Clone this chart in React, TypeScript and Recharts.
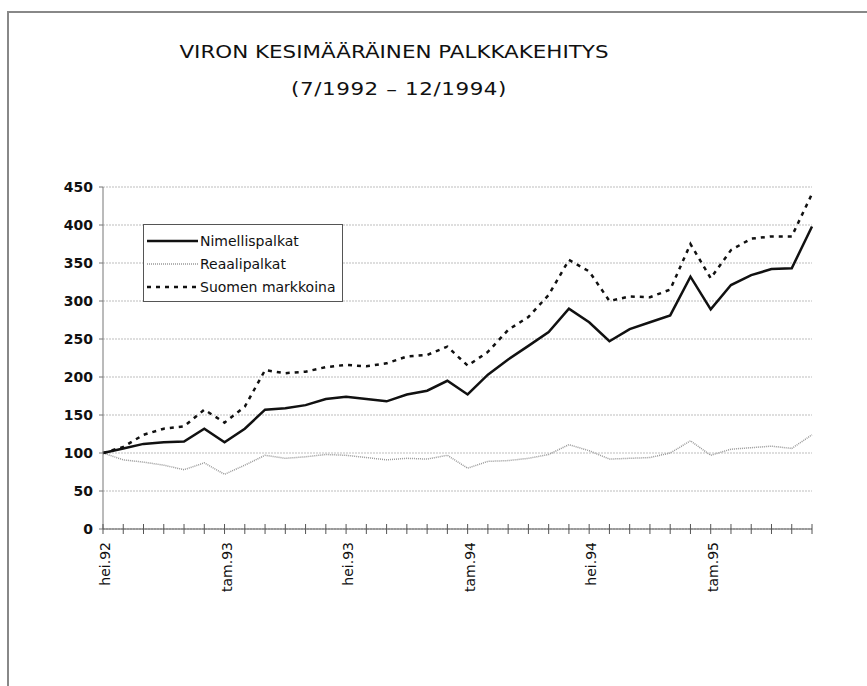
import React from "react";
import { LineChart, Line, XAxis, YAxis, CartesianGrid, Legend } from "recharts";

const months = [
  "hei.92","elo.92","syy.92","lok.92","mar.92","jou.92",
  "tam.93","hel.93","maa.93","huh.93","tou.93","kes.93",
  "hei.93","elo.93","syy.93","lok.93","mar.93","jou.93",
  "tam.94","hel.94","maa.94","huh.94","tou.94","kes.94",
  "hei.94","elo.94","syy.94","lok.94","mar.94","jou.94",
  "tam.95","hel.95","maa.95","huh.95","tou.95","kes.95",
];

const nimellispalkat = [
  100, 106, 112, 114, 115, 132, 114, 132, 157, 159, 163, 171,
  174, 171, 168, 177, 182, 195, 177, 203, 223, 241, 259, 290,
  272, 247, 263, 272, 281, 332, 289, 321, 334, 342, 343, 398,
];

const reaalipalkat = [
  100, 91, 88, 84, 78, 87, 72, 84, 97, 93, 95, 98,
  97, 94, 91, 93, 92, 97, 80, 89, 90, 93, 98, 111,
  103, 92, 93, 94, 100, 116, 97, 105, 107, 109, 106, 124,
];

const suomenMarkkoina = [
  100, 108, 124, 132, 135, 157, 140, 161, 209, 205, 207, 213,
  216, 214, 218, 227, 229, 240, 215, 233, 262, 279, 308, 354,
  339, 300, 306, 305, 315, 375, 330, 367, 382, 385, 385, 441,
];

const yTicks = [0, 50, 100, 150, 200, 250, 300, 350, 400, 450];

const seriesNames = ["Nimellispalkat", "Reaalipalkat", "Suomen markkoina"];

const data = months.map((m, i) => ({
  month: m,
  nim: nimellispalkat[i],
  real: reaalipalkat[i],
  fim: suomenMarkkoina[i],
}));

const FONT = "'DejaVu Sans', 'Liberation Sans', Arial, sans-serif";

const XTick = (props: any) => {
  const { x, y, payload } = props;
  const v: string = payload.value;
  const show = v.startsWith("hei") || v.startsWith("tam");
  return (
    <g>
      <line x1={x} x2={x} y1={y - 5} y2={y + 5} stroke="#555" strokeWidth={1} />
      {show && (
        <text
          x={x + 7}
          y={y + 13}
          transform={`rotate(-90, ${x + 7}, ${y + 13})`}
          textAnchor="end"
          fontFamily={FONT}
          fontSize={14}
          fill="#111"
        >
          {v}
        </text>
      )}
    </g>
  );
};

const renderLegend = () => {
  const styles = [
    { stroke: "#111", width: 2.5, dash: undefined as string | undefined },
    { stroke: "#999", width: 1.5, dash: "1 1" },
    { stroke: "#111", width: 2.5, dash: "4 5" },
  ];
  return (
    <div
      style={{
        border: "1px solid #555",
        background: "#fff",
        padding: "4px 0 3px 3px",
        width: 200,
        boxSizing: "border-box",
        fontFamily: FONT,
        fontSize: 14,
        color: "#111",
      }}
    >
      {seriesNames.map((n, i) => (
        <div key={n} style={{ height: 23, display: "flex", alignItems: "center" }}>
          <svg width={52} height={10} style={{ display: "block" }}>
            <line
              x1={0}
              x2={51}
              y1={5}
              y2={5}
              stroke={styles[i].stroke}
              strokeWidth={styles[i].width}
              strokeDasharray={styles[i].dash}
            />
          </svg>
          <span style={{ marginLeft: 1, whiteSpace: "nowrap" }}>{n}</span>
        </div>
      ))}
    </div>
  );
};

const titleStyle: React.CSSProperties = {
  position: "absolute",
  left: 0,
  textAlign: "center",
  fontFamily: FONT,
  fontSize: 18,
  lineHeight: "18px",
  color: "#111",
  whiteSpace: "nowrap",
  transform: "scaleX(1.19)",
};

export default function App() {
  return (
    <div style={{ position: "absolute", left: 0, top: 0, width: 867, height: 686, background: "#fff", overflow: "hidden" }}>
      <div
        style={{
          position: "absolute",
          left: 7,
          top: 11,
          width: 900,
          height: 700,
          borderLeft: "2px solid #888",
          borderTop: "2px solid #888",
        }}
      />
      <div style={{ ...titleStyle, width: 788, top: 43, transformOrigin: "394px 0" }}>
        VIRON KESIMÄÄRÄINEN PALKKAKEHITYS
      </div>
      <div style={{ ...titleStyle, width: 798, top: 80, letterSpacing: 0.5, transformOrigin: "399px 0" }}>
        (7/1992 – 12/1994)
      </div>
      <div style={{ position: "absolute", left: 0, top: 0 }}>
        <LineChart
          width={867}
          height={686}
          data={data}
          margin={{ top: 187, right: 55, bottom: 97, left: 43 }}
        >
          <CartesianGrid vertical={false} stroke="#bdbdbd" strokeDasharray="2 1" />
          <XAxis
            dataKey="month"
            interval={0}
            height={60}
            tick={<XTick />}
            tickLine={false}
            tickSize={0}
            tickMargin={0}
            axisLine={{ stroke: "#555" }}
          />
          <YAxis
            domain={[0, 450]}
            ticks={yTicks}
            width={60}
            tickSize={4}
            tickMargin={6}
            interval={0}
            axisLine={{ stroke: "#777" }}
            tickLine={{ stroke: "#777" }}
            tick={{ fontFamily: FONT, fontSize: 14, fontWeight: "bold", fill: "#111" }}
          />
          <Legend
            layout="vertical"
            align="center"
            verticalAlign="middle"
            content={renderLegend}
            wrapperStyle={{ left: 143, top: 224, width: 200 }}
          />
          <Line
            type="linear"
            dataKey="real"
            name={seriesNames[1]}
            stroke="#999"
            strokeWidth={1.5}
            strokeDasharray="1 1"
            dot={false}
            isAnimationActive={false}
          />
          <Line
            type="linear"
            dataKey="fim"
            name={seriesNames[2]}
            stroke="#111"
            strokeWidth={2.5}
            strokeDasharray="4 5"
            dot={false}
            isAnimationActive={false}
          />
          <Line
            type="linear"
            dataKey="nim"
            name={seriesNames[0]}
            stroke="#111"
            strokeWidth={2.5}
            dot={false}
            isAnimationActive={false}
          />
        </LineChart>
      </div>
    </div>
  );
}
